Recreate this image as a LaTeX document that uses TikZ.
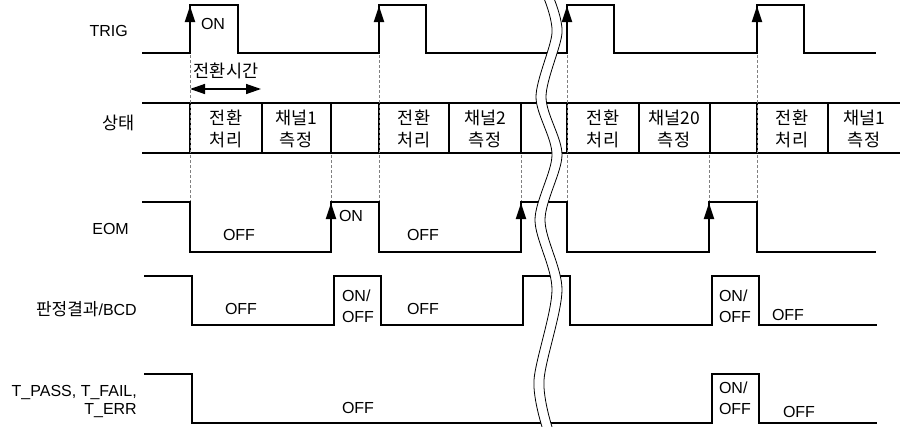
\documentclass[tikz,border=0pt]{standalone}
\usepackage{fontspec}
\setmainfont{Liberation Sans}
\newfontfamily\kr{Noto Sans CJK KR}
\usetikzlibrary{arrows.meta}

\begin{document}
\begin{tikzpicture}[x=1pt, y=-1pt,
  %% pixel coordinates, y downwards
  sig/.style={line width=2pt, line join=miter},
  edge/.style={line width=2pt, -{Triangle[length=16pt, width=10pt]}},
  span/.style={line width=1.4pt, {Triangle[length=15pt, width=10pt]}-{Triangle[length=15pt, width=10pt]}},
  guide/.style={densely dashed, gray, line width=0.7pt},
  lbl/.style={font=\fontsize{16}{18}\selectfont, inner sep=0pt, anchor=east, align=right},
  lvl/.style={font=\fontsize{16}{21}\selectfont, inner sep=0pt, align=left},
  cell/.style={font=\kr\fontsize{17.5}{22}\selectfont, inner sep=0pt, align=center},
  brk/.style={line width=0.8pt}
]
\useasboundingbox (0,0) rectangle (900,426);

%% ── Signal names ─────────────────────────────────────────────────────────
\node[lbl] (ntrig) at (128,31)  {TRIG};
\node[lbl] (nstate) at (135,123) {\kr\fontsize{17.5}{18}\selectfont 상태};
\node[lbl] (neom)  at (129,229) {EOM};
\node[lbl] (nbcd)  at (137,309) {{\kr\fontsize{17}{18}\selectfont 판정결과}/BCD};
\node[lbl] (ntp)   at (137,401) {T\_PASS, T\_FAIL,\\T\_ERR};

%% ── TRIG ─────────────────────────────────────────────────────────────────
\draw[sig] (142,53) -- (190,53) -- (190,5) -- (238,5) -- (238,53)
  -- (379,53) -- (379,5) -- (426,5) -- (426,53)
  -- (567,53) -- (567,5) -- (614,5) -- (614,53)
  -- (757,53) -- (757,5) -- (804,5) -- (804,53) -- (876,53);
\foreach \x in {190,379,567,757}
  \draw[edge] (\x,53) -- (\x,6);
\node[lvl] (trigon) at (213,24) {ON};

\node[cell] (swtime) at (226,71) {전환시간};
\draw[span] (190,89) -- (261,89);

%% ── 상태 ─────────────────────────────────────────────────────────────────
\draw[sig] (142,103) -- (900,103);
\draw[sig] (142,153) -- (900,153);
\foreach \x in {190,262,331,379,449,521,567,639,710,757,828}
  \draw[sig] (\x,103) -- (\x,153);
\node[cell] (st1) at (226,129) {전환\\처리};
\node[cell] (st2) at (296,129) {채널1\\측정};
\node[cell] (st3) at (414,129) {전환\\처리};
\node[cell] (st4) at (485,129) {채널2\\측정};
\node[cell] (st5) at (603,129) {전환\\처리};
\node[cell] (st6) at (674,129) {채널20\\측정};
\node[cell] (st7) at (792,129) {전환\\처리};
\node[cell] (st8) at (864,129) {채널1\\측정};

%% ── guides ───────────────────────────────────────────────────────────────
\foreach \x/\y in {190/55, 379/55, 567/55, 757/55, 331/155, 521/155, 709/155}
  \draw[guide] (\x,\y) -- (\x,201);

%% ── EOM ──────────────────────────────────────────────────────────────────
\draw[sig] (142,202) -- (190,202) -- (190,252) -- (331,252) -- (331,202)
  -- (379,202) -- (379,252) -- (521,252) -- (521,202)
  -- (567,202) -- (567,252) -- (709,252) -- (709,202)
  -- (757,202) -- (757,252) -- (876,252);
\foreach \x in {331,521,709}
  \draw[edge] (\x,252) -- (\x,203);
\node[lvl] (eomon)  at (351,216) {ON};
\node[lvl] (eomoff1) at (239,235) {OFF};
\node[lvl] (eomoff2) at (423,235) {OFF};

%% ── 판정결과/BCD ─────────────────────────────────────────────────────────
\draw[sig] (144,276) -- (192,276) -- (192,325) -- (334,325) -- (334,276)
  -- (381,276) -- (381,325) -- (523,325) -- (523,276)
  -- (570,276) -- (570,325) -- (712,325) -- (712,276)
  -- (759,276) -- (759,325) -- (877,325);
\node[lvl] (bcdoff1) at (241,309) {OFF};
\node[lvl] (bcdon1)  at (358,306) {ON/\\OFF};
\node[lvl] (bcdoff2) at (423,309) {OFF};
\node[lvl] (bcdon2)  at (735,306) {ON/\\OFF};
\node[lvl] (bcdoff3) at (788,315) {OFF};

%% ── T_PASS, T_FAIL, T_ERR ────────────────────────────────────────────────
\draw[sig] (144,374) -- (192,374) -- (192,423) -- (712,423) -- (712,374)
  -- (759,374) -- (759,423) -- (877,423);
\node[lvl] (toff1) at (358,408) {OFF};
\node[lvl] (ton)   at (735,398) {ON/\\OFF};
\node[lvl] (toff2) at (799,412) {OFF};

%% ── break ────────────────────────────────────────────────────────────────
\fill[white] plot[smooth] coordinates {(543,-4) (552,33) (536,97) (552,155) (535,220) (552,290) (534,380) (543,430)}
  -- plot[smooth] coordinates {(553,430) (544,380) (562,290) (545,220) (562,155) (546,97) (562,33) (553,-4)} -- cycle;
\draw[brk] plot[smooth] coordinates {(543,-4) (552,33) (536,97) (552,155) (535,220) (552,290) (534,380) (543,430)};
\draw[brk] plot[smooth] coordinates {(553,-4) (562,33) (546,97) (562,155) (545,220) (562,290) (544,380) (553,430)};

\end{tikzpicture}
\end{document}
